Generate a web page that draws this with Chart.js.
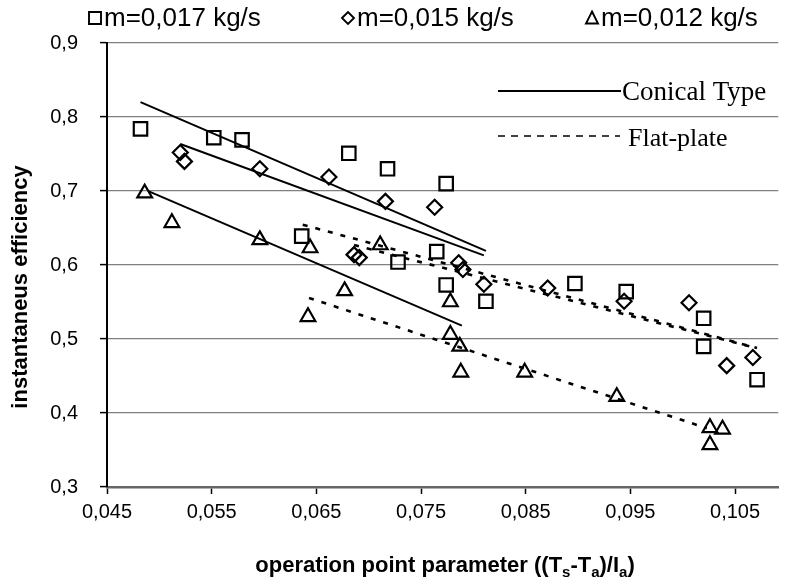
<!DOCTYPE html>
<html><head><meta charset="utf-8">
<script src="https://cdn.jsdelivr.net/npm/chart.js@4.4.0/dist/chart.umd.min.js"></script>
<style>html,body{margin:0;padding:0;background:#fff}#wrap{width:790px;height:587px;position:relative}canvas{display:block}</style>
</head><body><div id="wrap"><canvas id="c" width="790" height="587"></canvas></div>
<script>
// ---- data ----
const seriesLabels = ['m=0,017 kg/s', 'm=0,015 kg/s', 'm=0,012 kg/s'];
const sqX = [0.0482,0.0552,0.0579,0.0681,0.0718,0.0774,0.0636,0.0728,0.0765,0.0774,0.0812,0.0897,0.0946,0.1020,0.1020,0.1071];
const sqY = [0.784,0.772,0.769,0.751,0.730,0.710,0.639,0.604,0.618,0.573,0.551,0.575,0.564,0.528,0.490,0.445];
const diX = [0.0520,0.0524,0.0596,0.0662,0.0716,0.0763,0.0686,0.0691,0.0786,0.0790,0.0810,0.0871,0.0944,0.1006,0.1042,0.1067];
const diY = [0.752,0.740,0.730,0.719,0.686,0.678,0.614,0.610,0.603,0.594,0.574,0.569,0.551,0.549,0.464,0.475];
const trX = [0.0486,0.0512,0.0596,0.0644,0.0711,0.0677,0.0642,0.0778,0.0778,0.0787,0.0788,0.0849,0.0937,0.1026,0.1038,0.1026];
const trY = [0.697,0.657,0.634,0.623,0.627,0.565,0.530,0.550,0.506,0.490,0.455,0.455,0.422,0.380,0.378,0.357];
// trend lines (end points)
const conSqX = [0.0482,0.0812], conSqY = [0.820,0.619];
const conDiX = [0.0520,0.0810], conDiY = [0.7635,0.613];
const conTrX = [0.0490,0.0789], conTrY = [0.6995,0.518];
const flatSqX = [0.0637,0.1071], flatSqY = [0.6545,0.4878];
const flatDiX = [0.0686,0.1067], flatDiY = [0.627,0.489];
const flatTrX = [0.0643,0.1023], flatTrY = [0.5554,0.3795];
const xTicks = [0.045,0.055,0.065,0.075,0.085,0.095,0.105];
const yTicks = [0.3,0.4,0.5,0.6,0.7,0.8,0.9];
const lineLegend = ['Conical Type','Flat-plate'];
const xTitleParts = [['operation point parameter ((T',0],['s',1],['-T',0],['a',1],[')/I',0],['a',1],[')',0]];
const yTitle = 'instantaneus efficiency';

const pts = (xs, ys) => xs.map((x, i) => ({x, y: ys[i]}));
const SANS = '"Liberation Sans", Arial, sans-serif';
const SERIF = '"Liberation Serif", "Times New Roman", serif';

function marker(label, xs, ys, style, r) {
  return {label, data: pts(xs, ys), pointStyle: style, pointRadius: r, pointHoverRadius: r,
    borderColor: '#000', backgroundColor: 'rgba(0,0,0,0)', pointBorderWidth: 2.2, showLine: false};
}
function trend(xs, ys, dash) {
  return {label: '', data: pts(xs, ys), showLine: true, borderColor: '#000', borderWidth: dash ? 2.6 : 2,
    borderDash: dash ? [5, 8] : [], pointRadius: 0, pointHoverRadius: 0, fill: false};
}

const overlay = {
  id: 'overlay',
  afterDraw(chart) {
    const ctx = chart.ctx;
    ctx.save();
    ctx.fillStyle = '#000'; ctx.strokeStyle = '#000';
    // top legend
    ctx.font = '26px ' + SANS; ctx.textBaseline = 'middle'; ctx.textAlign = 'left';
    const ly = 18;
    const items = [{x: 95, s: 'rect'}, {x: 348, s: 'rectRot'}, {x: 592, s: 'triangle'}];
    items.forEach((it, i) => {
      ctx.lineWidth = 1.9;
      ctx.beginPath();
      if (it.s === 'rect') ctx.rect(it.x - 6, ly - 6, 12, 12);
      else if (it.s === 'rectRot') { ctx.moveTo(it.x - 6, ly); ctx.lineTo(it.x, ly - 6); ctx.lineTo(it.x + 6, ly); ctx.lineTo(it.x, ly + 6); ctx.closePath(); }
      else { ctx.moveTo(it.x, ly - 6.5); ctx.lineTo(it.x + 6, ly + 5.5); ctx.lineTo(it.x - 6, ly + 5.5); ctx.closePath(); }
      ctx.stroke();
      ctx.fillText(seriesLabels[i], it.x + 9, ly + 1);
    });
    // inner legend for line types
    ctx.lineWidth = 2; ctx.setLineDash([]);
    ctx.beginPath(); ctx.moveTo(498, 91); ctx.lineTo(621, 91); ctx.stroke();
    ctx.lineWidth = 1.6; ctx.setLineDash([7, 6]);
    ctx.beginPath(); ctx.moveTo(498, 136); ctx.lineTo(620, 136); ctx.stroke();
    ctx.setLineDash([]);
    ctx.font = '27px ' + SERIF; ctx.textBaseline = 'alphabetic';
    ctx.fillText(lineLegend[0], 622, 100);
    ctx.font = '26px ' + SERIF;
    ctx.fillText(lineLegend[1], 628, 146);
    // x title with subscripts
    const big = 'bold 22px ' + SANS, small = 'bold 15px ' + SANS;
    let w = 0;
    xTitleParts.forEach(p => { ctx.font = p[1] ? small : big; w += ctx.measureText(p[0]).width; });
    let x = 445 - w / 2;
    const by = 572;
    xTitleParts.forEach(p => { ctx.font = p[1] ? small : big; ctx.fillText(p[0], x, p[1] ? by + 5 : by); x += ctx.measureText(p[0]).width; });
    // y title
    ctx.translate(21, 287);
    ctx.rotate(-Math.PI / 2);
    ctx.font = 'bold 22px ' + SANS; ctx.textAlign = 'center'; ctx.textBaseline = 'middle';
    ctx.fillText(yTitle, 0, 0);
    ctx.restore();
  }
};

new Chart(document.getElementById('c'), {
  type: 'scatter',
  data: {datasets: [
    marker(seriesLabels[0], sqX, sqY, 'rect', 9.5),
    marker(seriesLabels[1], diX, diY, 'rectRot', 7.5),
    marker(seriesLabels[2], trX, trY, 'triangle', 8.5),
    trend(conSqX, conSqY, false), trend(conDiX, conDiY, false), trend(conTrX, conTrY, false),
    trend(flatSqX, flatSqY, true), trend(flatDiX, flatDiY, true), trend(flatTrX, flatTrY, true)
  ]},
  options: {
    responsive: false, animation: false, devicePixelRatio: 1,
    layout: {padding: {top: 43, right: 0, left: 0, bottom: 0}},
    plugins: {legend: {display: false}, tooltip: {enabled: false}},
    scales: {
      x: {type: 'linear', min: 0.045, max: 0.10913,
        afterBuildTicks: s => { s.ticks = xTicks.map(v => ({value: v})); },
        afterFit: s => { s.height = 100; },
        ticks: {callback: v => v.toFixed(3).replace('.', ','), color: '#000', font: {family: SANS, size: 20}, padding: 6, maxRotation: 0, autoSkip: false},
        grid: {drawOnChartArea: false, drawTicks: true, tickLength: 7, tickColor: '#000', tickWidth: 1.5},
        border: {display: true, color: '#666', width: 2.5}
      },
      y: {type: 'linear', min: 0.3, max: 0.9,
        afterBuildTicks: s => { s.ticks = yTicks.map(v => ({value: v})); },
        afterFit: s => { s.width = 107; },
        ticks: {callback: v => v.toFixed(1).replace('.', ','), color: '#000', font: {family: SANS, size: 20}, padding: 22},
        grid: {color: '#808080', lineWidth: 1.2, drawTicks: true, tickLength: 7, tickColor: '#000', tickWidth: 1.5},
        border: {display: true, color: '#000', width: 2}
      }
    }
  },
  plugins: [overlay]
});
</script></body></html>
